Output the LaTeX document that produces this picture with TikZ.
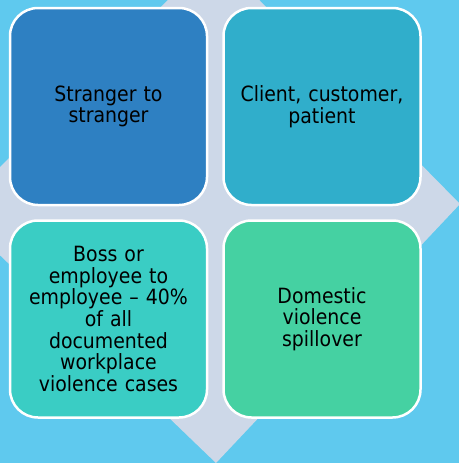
\documentclass[tikz,border=0pt]{standalone}
\usepackage{fontspec}
\setmainfont[FakeStretch=0.9]{DejaVu Sans}
\usepackage{tikz}
\usetikzlibrary{positioning}

\definecolor{skyblue}{HTML}{5FC9EE}
\definecolor{paleslate}{HTML}{CDD8E8}
\definecolor{tileblue}{HTML}{2E80C2}
\definecolor{tileteal}{HTML}{30AECB}
\definecolor{tileaqua}{HTML}{3ACDC4}
\definecolor{tilegreen}{HTML}{45D1A2}

\begin{document}
\begin{tikzpicture}[
        x=1pt, y=-1pt,
        font=\fontsize{21}{21.7}\selectfont,
        tile/.style={draw=white, line width=2.5pt, rounded corners=28pt, minimum width=197pt, minimum height=197pt, text width=185pt, align=center, inner sep=0pt}
    ]

    % Background and diamond
    \useasboundingbox (0,0) rectangle (459,463);
    \clip (0,0) rectangle (459,463);
    \fill[skyblue] (0,0) rectangle (459,463);
    \fill[paleslate] (214,-46) -- (460,204) -- (216,463) -- (-45,212) -- cycle;

    % Quadrant tiles
    \node[tile, fill=tileblue] (stranger) at (108.5,106.5) {Stranger to\\stranger};
    \node[tile, fill=tileteal] (client) at (322,106.5) {Client, customer,\\patient};
    \node[tile, fill=tileaqua] (boss) at (108.5,319) {Boss or\\employee to\\employee -- 40\%\\of all\\documented\\workplace\\violence cases};
    \node[tile, fill=tilegreen] (domestic) at (322,319) {Domestic\\violence\\spillover};

\end{tikzpicture}
\end{document}
